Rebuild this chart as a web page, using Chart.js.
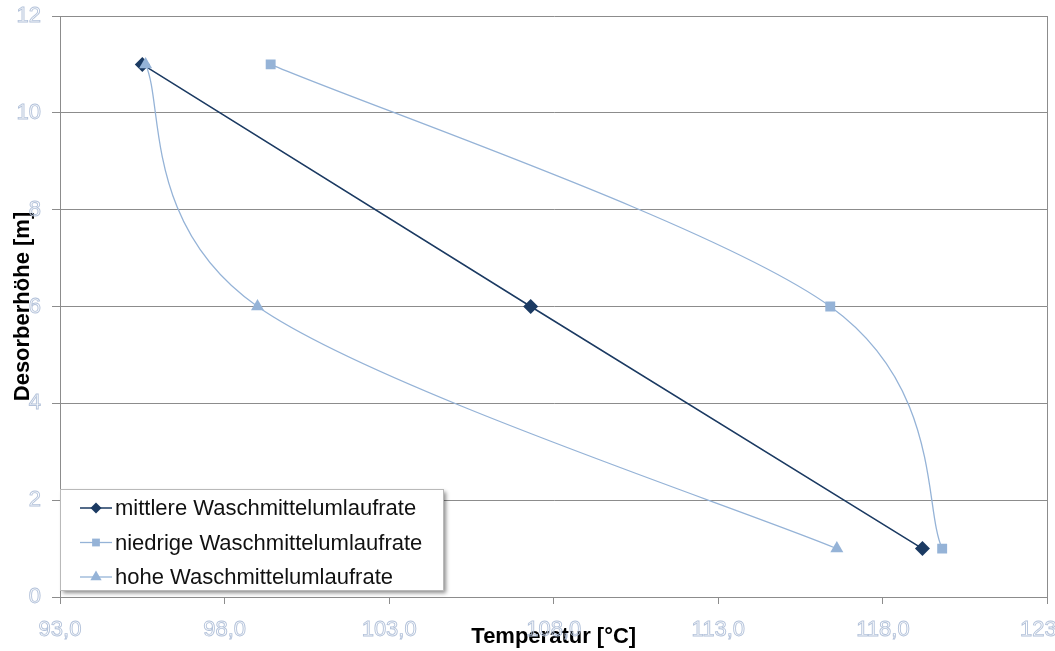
<!DOCTYPE html>
<html>
<head>
<meta charset="utf-8">
<script src="https://cdn.jsdelivr.net/npm/chart.js@4.4.0/dist/chart.umd.min.js"></script>
<style>
  body { margin: 0; background: #fff; overflow: hidden; }
  canvas { display: block; }
</style>
</head>
<body>
<canvas id="desorberChart" width="1055" height="651"></canvas>
<script>
var seriesNames = ['mittlere Waschmittelumlaufrate', 'niedrige Waschmittelumlaufrate', 'hohe Waschmittelumlaufrate'];
var hoehe = [11, 6, 1];
var tempMittlere = [95.5, 107.3, 119.2];
var tempNiedrige = [99.4, 116.4, 119.8];
var tempHohe = [95.6, 99.0, 116.6];
var xTicks = [93, 98, 103, 108, 113, 118, 123];
var yTicks = [0, 2, 4, 6, 8, 10, 12];

var dark = '#1b3a62';
var light = '#95b3d7';
var tickStroke = '#b3c2da';

function points(temps) {
  return temps.map(function (t, i) { return { x: t, y: hoehe[i] }; });
}

Chart.defaults.font.family = "'Liberation Sans', Arial, sans-serif";

// Excel style smoothing: tangent at a point parallel to its neighbours, 1/6 of their distance
var excelSmooth = {
  id: 'excelSmooth',
  beforeDatasetsDraw: function (chart) {
    chart.data.datasets.forEach(function (ds, di) {
      if (!ds.excelSmooth) return;
      var meta = chart.getDatasetMeta(di);
      var line = meta.dataset;
      line.updateControlPoints(chart.chartArea, 'x');
      var p = meta.data;
      for (var i = 0; i < p.length; i++) {
        var prev = p[i - 1] || p[i];
        var next = p[i + 1] || p[i];
        var dx = (next.x - prev.x) / 6;
        var dy = (next.y - prev.y) / 6;
        p[i].cp1x = p[i].x - dx;
        p[i].cp1y = p[i].y - dy;
        p[i].cp2x = p[i].x + dx;
        p[i].cp2y = p[i].y + dy;
      }
      line._pointsUpdated = true;
      line._path = undefined;
    });
  }
};

// legend box sits inside the plot, bottom left, like the Excel original
var legendBox = {
  id: 'legendBox',
  afterDraw: function (chart) {
    var ctx = chart.ctx;
    var x0 = 60, y0 = 489, w = 383, h = 101;
    ctx.save();
    ctx.shadowColor = 'rgba(0,0,0,0.45)';
    ctx.shadowBlur = 4;
    ctx.shadowOffsetX = 3;
    ctx.shadowOffsetY = 3;
    ctx.fillStyle = '#fff';
    ctx.fillRect(x0, y0, w, h);
    ctx.restore();

    ctx.save();
    ctx.strokeStyle = '#b9b9b9';
    ctx.lineWidth = 1;
    ctx.strokeRect(x0 + 0.5, y0 + 0.5, w, h);
    var sizes = [5.5, 5.5, 6.5];
    chart.data.datasets.forEach(function (ds, i) {
      var cy = 508 + i * 34.5;
      ctx.strokeStyle = ds.borderColor;
      ctx.lineWidth = ds.borderWidth;
      ctx.beginPath();
      ctx.moveTo(80, cy);
      ctx.lineTo(112, cy);
      ctx.stroke();
      ctx.fillStyle = ds.backgroundColor;
      Chart.helpers.drawPoint(ctx, { pointStyle: ds.pointStyle, radius: sizes[i], borderWidth: 0 }, 96, cy);
      ctx.fillStyle = '#111';
      ctx.font = "22px 'Liberation Sans', Arial, sans-serif";
      ctx.textBaseline = 'middle';
      ctx.textAlign = 'left';
      ctx.fillText(seriesNames[i], 115, cy + 1);
    });
    ctx.restore();
  }
};

var ctx = document.getElementById('desorberChart').getContext('2d');
var desorberChart = new Chart(ctx, {
  type: 'scatter',
  data: {
    datasets: [{
      label: seriesNames[0],
      data: points(tempMittlere),
      showLine: true,
      tension: 0,
      borderColor: dark,
      backgroundColor: dark,
      borderWidth: 1.5,
      pointStyle: 'rectRot',
      pointRadius: 7.5,
      pointBorderWidth: 0,
      order: 1
    }, {
      label: seriesNames[1],
      data: points(tempNiedrige),
      showLine: true,
      tension: 0.4,
      excelSmooth: true,
      borderColor: light,
      backgroundColor: light,
      borderWidth: 1.3,
      pointStyle: 'rect',
      pointRadius: 7,
      pointBorderWidth: 0,
      order: 2
    }, {
      label: seriesNames[2],
      data: points(tempHohe),
      showLine: true,
      tension: 0.4,
      excelSmooth: true,
      borderColor: light,
      backgroundColor: light,
      borderWidth: 1.3,
      pointStyle: 'triangle',
      pointRadius: 7.5,
      pointBorderWidth: 0,
      order: 0
    }]
  },
  options: {
    responsive: false,
    animation: false,
    layout: { padding: { top: 16, right: 7, bottom: 0, left: 0 } },
    plugins: {
      legend: { display: false },
      tooltip: { enabled: false }
    },
    scales: {
      x: {
        type: 'linear',
        min: 93,
        max: 123,
        afterBuildTicks: function (s) { s.ticks = xTicks.map(function (v) { return { value: v }; }); },
        afterFit: function (s) { s.height = 54; s.paddingLeft = 0; s.paddingRight = 0; },
        border: { color: '#8c8c8c', width: 1 },
        grid: {
          drawOnChartArea: true,
          color: function (c) { return c.index === xTicks.length - 1 ? '#8c8c8c' : 'rgba(0,0,0,0)'; },
          tickColor: '#8c8c8c',
          tickLength: 7
        },
        ticks: {
          padding: 13,
          maxRotation: 0,
          autoSkip: false,
          color: 'rgba(0,0,0,0)',
          textStrokeColor: tickStroke,
          textStrokeWidth: 0.9,
          font: { size: 22 },
          callback: function (v) { return v.toFixed(1).replace('.', ','); }
        },
        title: {
          display: true,
          text: 'Temperatur [°C]',
          color: '#000',
          font: { size: 22, weight: 'bold' },
          padding: { top: 0, bottom: 1 }
        }
      },
      y: {
        type: 'linear',
        min: 0,
        max: 12,
        afterBuildTicks: function (s) { s.ticks = yTicks.map(function (v) { return { value: v }; }); },
        afterFit: function (s) { s.width = 60; s.paddingTop = 0; s.paddingBottom = 0; },
        border: { color: '#8c8c8c', width: 1 },
        grid: {
          color: '#8c8c8c',
          tickColor: '#8c8c8c',
          tickLength: 8
        },
        ticks: {
          padding: 11,
          color: 'rgba(0,0,0,0)',
          textStrokeColor: tickStroke,
          textStrokeWidth: 0.9,
          font: { size: 22 }
        },
        title: {
          display: true,
          text: 'Desorberhöhe [m]',
          color: '#000',
          font: { size: 22, weight: 'bold' },
          padding: { top: 10, bottom: 0 }
        }
      }
    }
  },
  plugins: [excelSmooth, legendBox]
});
</script>
</body>
</html>
